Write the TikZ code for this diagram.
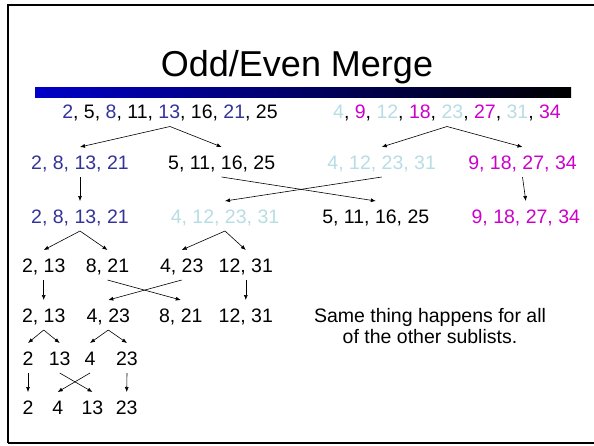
\documentclass[tikz,border=0pt]{standalone}
\usepackage{fontspec}
\setmainfont{Liberation Sans}
\usetikzlibrary{arrows.meta}
\definecolor{mergeblue}{HTML}{333399}
\definecolor{mergecyan}{HTML}{B7DDE4}
\definecolor{mergemagenta}{HTML}{CC00CC}
\definecolor{barblue}{HTML}{0000C8}
\newcommand{\blu}[1]{\textcolor{mergeblue}{#1}}
\newcommand{\cya}[1]{\textcolor{mergecyan}{#1}}
\newcommand{\mgt}[1]{\textcolor{mergemagenta}{#1}}

\begin{document}
\begin{tikzpicture}[x=1pt, y=-1pt,
    num/.style={inner sep=0pt, outer xsep=0pt, outer ysep=8pt, text height=14pt, text depth=0pt, font=\fontsize{19.5}{23}\selectfont},
    arrow/.style={-{Latex[length=5pt,width=4pt]}, line width=0.6pt},
]
\useasboundingbox (0,0) rectangle (594,445);
\draw[line width=2pt] (594,5) -- (8,5) -- (8,443);
\draw[line width=1.5pt] (8,443) -- (594,443);
\shade[left color=barblue, right color=black] (35,87) rectangle (571,97);
\node[font=\fontsize{36}{40}\selectfont, anchor=base, inner sep=0pt] (title) at (297,76) {Odd/Even Merge};

\node[num] (l0) at (170,111.5) {\blu{2}, 5, \blu{8}, 11, \blu{13}, 16, \blu{21}, 25};
\node[num] (r0) at (447,111.5) {\cya{4}, \mgt{9}, \cya{12}, \mgt{18}, \cya{23}, \mgt{27}, \cya{31}, \mgt{34}};

\node[num, text=mergeblue] (a1) at (80,162) {2, 8, 13, 21};
\node[num] (b1) at (221.7,162) {5, 11, 16, 25};
\node[num, text=mergecyan] (c1) at (381.7,162) {4, 12, 23, 31};
\node[num, text=mergemagenta] (d1) at (522.5,162) {9, 18, 27, 34};

\node[num, text=mergeblue] (a2) at (80,216) {2, 8, 13, 21};
\node[num, text=mergecyan] (c2) at (225,216) {4, 12, 23, 31};
\node[num] (b2) at (375.8,216) {5, 11, 16, 25};
\node[num, text=mergemagenta] (d2) at (525.8,216) {9, 18, 27, 34};

\node[num] (p3) at (43.7,265) {2, 13};
\node[num] (q3) at (107.5,265) {8, 21};
\node[num] (s3) at (181.7,265) {4, 23};
\node[num] (t3) at (245.8,265) {12, 31};

\node[num] (p4) at (43.7,315) {2, 13};
\node[num] (s4) at (108.3,315) {4, 23};
\node[num] (q4) at (180.8,315) {8, 21};
\node[num] (t4) at (245.8,315) {12, 31};

\node[num] (two5) at (28,358) {2};
\node[num] (thirteen5) at (59.7,358) {13};
\node[num] (four5) at (90,358) {4};
\node[num] (twentythree5) at (127,358) {23};

\node[num] (two6) at (28,407) {2};
\node[num] (four6) at (57.7,407) {4};
\node[num] (thirteen6) at (92.5,407) {13};
\node[num] (twentythree6) at (126.7,407) {23};

\node[font=\fontsize{19.5}{21}\selectfont, align=center, anchor=north, inner sep=0pt] (note) at (430,308) {Same thing happens for all\\of the other sublists.};

\draw[arrow] (l0.south) -- (a1.north);
\draw[arrow] (l0.south) -- (b1.north);
\draw[arrow] (r0.south) -- (c1.north);
\draw[arrow] (r0.south) -- (d1.north);

\draw[arrow] (a1.south) -- (a2.north);
\draw[arrow] (b1.south) -- (b2.north);
\draw[arrow] (c1.south) -- (c2.north);
\draw[arrow] (d1.south) -- (d2.north);

\draw[arrow] (a2.south) -- (p3.north);
\draw[arrow] (a2.south) -- (q3.north);
\draw[arrow] (c2.south) -- (s3.north);
\draw[arrow] (c2.south) -- (t3.north);

\draw[arrow] (p3.south) -- (p4.north);
\draw[arrow] (q3.south) -- (q4.north);
\draw[arrow] (s3.south) -- (s4.north);
\draw[arrow] (t3.south) -- (t4.north);

\draw[arrow] (p4.south) -- (two5.north);
\draw[arrow] (p4.south) -- (thirteen5.north);
\draw[arrow] (s4.south) -- (four5.north);
\draw[arrow] (s4.south) -- (twentythree5.north);

\draw[arrow] (two5.south) -- (two6.north);
\draw[arrow] (thirteen5.south) -- (thirteen6.north);
\draw[arrow] (four5.south) -- (four6.north);
\draw[arrow] (twentythree5.south) -- (twentythree6.north);
\end{tikzpicture}
\end{document}
